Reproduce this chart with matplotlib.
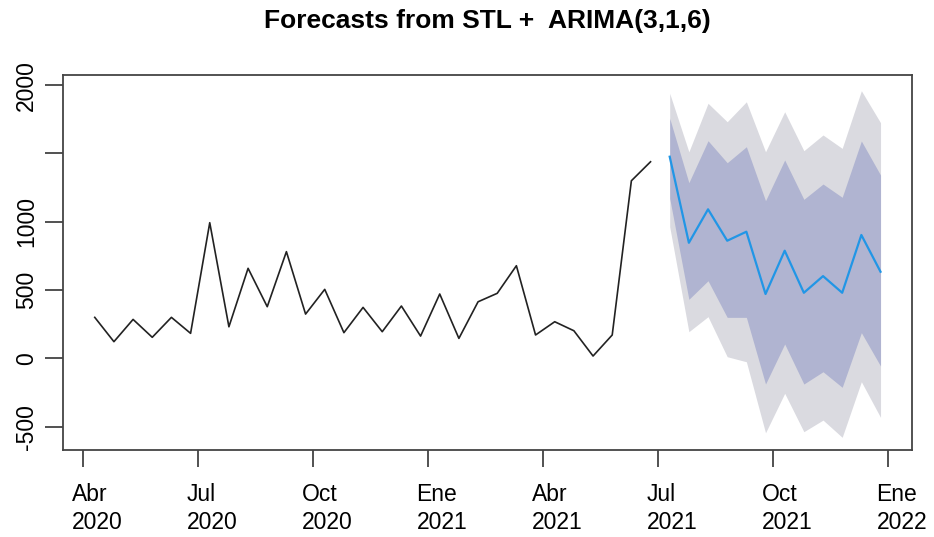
import matplotlib.pyplot as plt
import matplotlib.transforms as mtransforms
import numpy as np

plt.rcParams['font.family'] = ['Liberation Sans', 'DejaVu Sans']

# semi-monthly series (24 obs per year)
freq = 24
start = 2020.25 + 0.6 / freq

observed = [300, 122, 285, 154, 300, 183, 993, 231, 659, 378, 781, 324, 505, 188, 373,
            195, 383, 163, 471, 146, 414, 476, 678, 171, 268, 202, 17, 171, 1300, 1439]

fc_mean = [1476, 846, 1091, 861, 927, 471, 788, 480, 602, 480, 903, 634]
lo80 = [1171, 432, 568, 300, 300, -188, 105, -188, -98, -212, 188, -56]
hi80 = [1757, 1286, 1593, 1432, 1549, 1154, 1452, 1164, 1276, 1179, 1591, 1342]
lo95 = [963, 195, 305, 12, -25, -545, -256, -537, -452, -578, -171, -432]
hi95 = [1940, 1512, 1867, 1732, 1878, 1512, 1805, 1520, 1635, 1537, 1959, 1725]

tick_pos = [2020.25, 2020.5, 2020.75, 2021.0, 2021.25, 2021.5, 2021.75, 2022.0]
tick_lab = ['Abr\n2020', 'Jul\n2020', 'Oct\n2020', 'Ene\n2021',
            'Abr\n2021', 'Jul\n2021', 'Oct\n2021', 'Ene\n2022']
y_ticks = [-500, 0, 500, 1000, 1500, 2000]
y_lab = ['-500', '0', '500', '1000', '', '2000']

n_obs = len(observed)
t_obs = start + np.arange(n_obs) / freq
t_fc = start + (n_obs + np.arange(len(fc_mean))) / freq

fig = plt.figure(figsize=(9.34, 5.37), dpi=100)
ax = fig.add_axes([0.0678, 0.162, 0.9086, 0.6983])

ax.fill_between(t_fc, lo95, hi95, color='#dadae0', linewidth=0)
ax.fill_between(t_fc, lo80, hi80, color='#b0b4d1', linewidth=0)
ax.plot(t_obs, observed, color='#222222', linewidth=1.2)
ax.plot(t_fc, fc_mean, color='#2196e6', linewidth=1.6)

span = t_fc[-1] - t_obs[0]
ax.set_xlim(t_obs[0] - 0.04 * span, t_fc[-1] + 0.04 * span)
ax.set_ylim(-671, 2074)

# month/year labels, left-aligned a little before each tick
ax.set_xticks(tick_pos)
ax.set_xticklabels([])
shift = mtransforms.ScaledTranslation(-0.117, -0.33, fig.dpi_scale_trans)
for pos, lab in zip(tick_pos, tick_lab):
    ax.text(pos, 0, lab, transform=ax.get_xaxis_transform() + shift,
            ha='left', va='top', fontsize=16.5, linespacing=1.25, clip_on=False)

ax.set_yticks(y_ticks)
ax.set_yticklabels(y_lab, fontsize=16.5, rotation=90, va='center')

ax.tick_params(axis='x', length=12, width=1.2, color='#333333')
ax.tick_params(axis='y', length=13, width=1.2, color='#333333', pad=5)
for s in ax.spines.values():
    s.set_linewidth(1.3)
    s.set_color('#444444')

ax.set_title('Forecasts from STL +  ARIMA(3,1,6)', fontsize=19, fontweight='bold', pad=34)

fig.savefig('out.png', dpi=100)
